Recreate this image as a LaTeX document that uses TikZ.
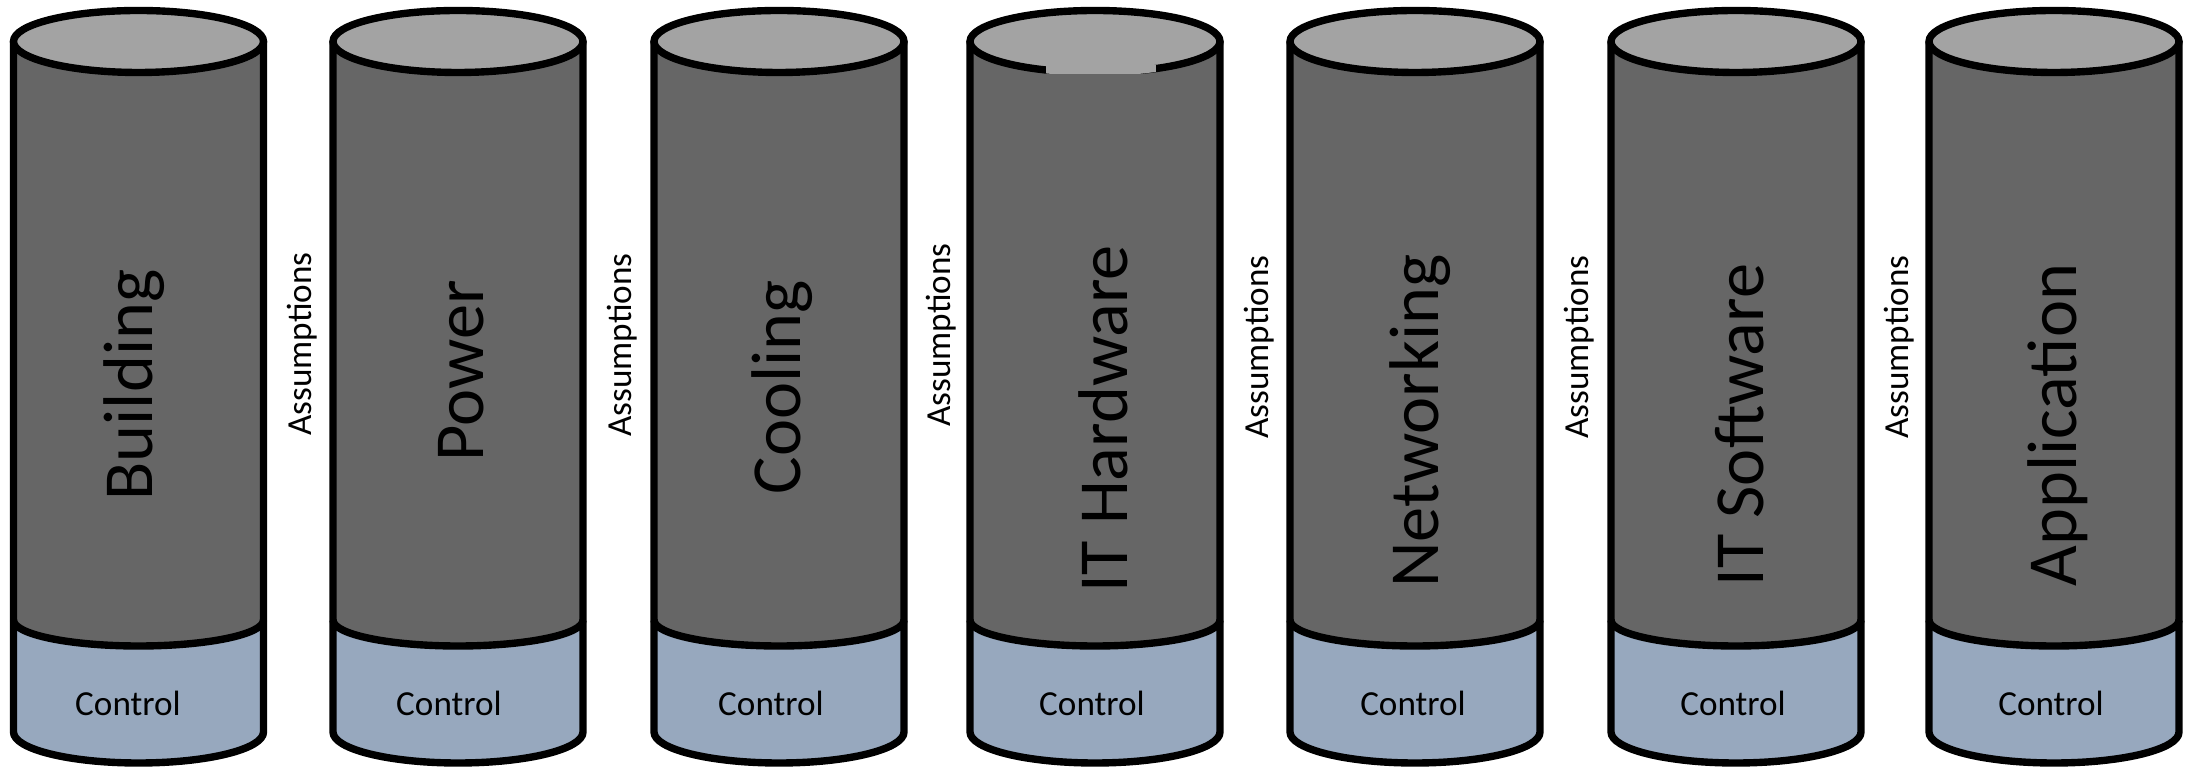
\documentclass[tikz,border=0pt]{standalone}
\usepackage{fontspec}
\setmainfont{Carlito}
\definecolor{bodygray}{RGB}{102,102,102}
\definecolor{topgray}{RGB}{163,163,163}
\definecolor{ctrlblue}{RGB}{151,168,190}

\begin{document}
\begin{tikzpicture}[x=0.01cm, y=0.01cm, line width=2.1pt,
		layer/.style={font=\fontsize{20}{24}\selectfont, rotate=90, anchor=base, inner sep=0pt},
		ctrl/.style={font=\fontsize{10}{12}\selectfont, anchor=base, inner sep=0pt},
		assume/.style={font=\fontsize{10}{12}\selectfont, rotate=90, anchor=base, inner sep=0pt}]
		\useasboundingbox (0,0) rectangle (2185,767);
		% the seven silos
		\foreach \cx in {138.5,458,779,1095,1415,1736,2054} {
			\fill[ctrlblue] (\cx-125,147) -- (\cx-125,35) arc[start angle=180, end angle=360, x radius=125, y radius=31] -- (\cx+125,147) -- cycle;
			\fill[bodygray] (\cx-125,725.5) -- (\cx-125,147) arc[start angle=180, end angle=360, x radius=125, y radius=26] -- (\cx+125,725.5) -- cycle;
			\draw (\cx-125,147) arc[start angle=180, end angle=360, x radius=125, y radius=26];
			\draw (\cx-125,725.5) -- (\cx-125,35) arc[start angle=180, end angle=360, x radius=125, y radius=31] -- (\cx+125,725.5);
			\draw[fill=topgray] (\cx,725.5) ellipse[x radius=125, y radius=31];
		}
		% gap in the lid of the fourth silo
		\fill[bodygray] (1046,680) rectangle (1156,693);
		\begin{scope}
			\clip (1095,725.5) ellipse[x radius=128.7, y radius=34.5];
			\fill[topgray] (1046,693) rectangle (1156,702);
		\end{scope}
		% layer names
		\node[layer] (building) at (152,382) {Building};
		\node[layer] (power) at (483,396) {Power};
		\node[layer] (cooling) at (800,380) {Cooling};
		\node[layer] (hardware) at (1127,348) {IT Hardware};
		\node[layer] (network) at (1438,346) {Networking};
		\node[layer] (software) at (1763,342) {IT Software};
		\node[layer] (app) at (2076,342) {Application};
		% control bands
		\foreach \x [count=\i] in {128,449,771,1092,1413,1733,2051}
			\node[ctrl] (ctrl\i) at (\x,51) {Control};
		% assumptions between silos
		\foreach \x/\y [count=\i] in {311/423,631.5/422,950/432,1268/420,1588.5/420,1908/420}
			\node[assume] (assume\i) at (\x,\y) {Assumptions};
	\end{tikzpicture}
\end{document}
